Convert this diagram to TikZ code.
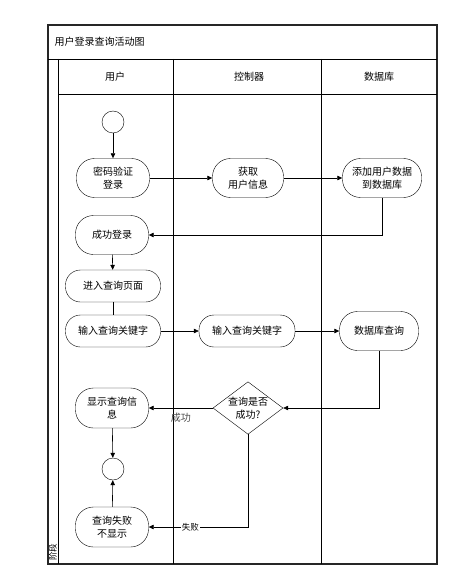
\documentclass[tikz,border=0pt]{standalone}
\usepackage{fontspec}
\setmainfont{Noto Sans CJK SC}
\usetikzlibrary{arrows.meta,positioning,shapes.geometric}

\begin{document}
\begin{tikzpicture}[x=1pt,y=-1pt,
          font=\fontsize{10}{12.5}\selectfont,
          act/.style={draw,rounded corners=18pt,align=center,
                      minimum width=73pt,minimum height=39pt,inner sep=1pt},
          flat/.style={act,minimum width=95pt,minimum height=32pt,rounded corners=15pt},
          dot/.style={draw,circle,minimum size=22pt,inner sep=0pt},
          ask/.style={draw,diamond,aspect=1.3,inner sep=0pt,align=center,
                      minimum width=70pt},
          ar/.style={-{Triangle[length=5pt,width=4.5pt]},line width=0.6pt},
          lbl/.style={font=\fontsize{10}{11}\selectfont,text=black!70},
          tag/.style={font=\fontsize{8.5}{9}\selectfont,fill=white,inner sep=1pt}
        ]
          \useasboundingbox (0,0) rectangle (466,572);

          % frame and lanes
          \draw[line width=1.1pt,black!85] (48,25) rectangle (437,564);
          \draw[line width=0.8pt] (48,59) -- (437,59);
          \draw[line width=0.8pt] (58,59) -- (58,564);
          \draw[line width=0.8pt] (58,94) -- (437,94);
          \draw[line width=0.8pt] (173,59) -- (173,564);
          \draw[line width=0.8pt] (321,59) -- (321,564);

          \node(title)[anchor=west] at (51,42) {用户登录查询活动图};
          \node(hUser) at (115,77) {用户};
          \node(hCtrl) at (249,77) {控制器};
          \node(hDb) at (379,77) {数据库};
          \node(phase)[rotate=90,font=\fontsize{8.5}{9}\selectfont,inner sep=0pt] at (53,552) {阶段};

          % user lane
          \node(start)[dot] at (113,122) {};
          \node(login)[act] at (113,178) {密码验证\\登录};
          \node(ok)[act] at (112,235) {成功登录};
          \node(page)[flat] at (113,286) {进入查询页面};
          \node(key1)[flat] at (113,331) {输入查询关键字};
          \node(show)[act,minimum height=40pt] at (112,408) {显示查询信\\息};
          \node(stop)[dot] at (113,469) {};
          \node(fail)[act,minimum height=40pt] at (112,527) {查询失败\\不显示};

          % controller lane
          \node(fetch)[act,minimum width=71pt] at (248,178) {获取\\用户信息};
          \node(key2)[flat,minimum width=96pt] at (247,331) {输入查询关键字};
          \node(check)[ask] at (248,408) {查询是否\\成功?};

          % database lane
          \node(add)[act,minimum width=79pt] at (382,178) {添加用户数据\\到数据库};
          \node(query)[act,minimum width=79pt] at (379,331) {数据库查询};

          \draw[ar] (start) -- (login);
          \draw[ar] (login) -- (fetch);
          \draw[ar] (fetch) -- (add);
          \draw[ar] (add.south) |- (ok.east);
          \draw[ar] (ok) -- (page);
          \draw[line width=0.6pt] (page) -- (key1);
          \draw[ar] (key1) -- (key2);
          \draw[ar] (key2) -- (query);
          \draw[ar] (query.south) |- (check.east);
          \draw[ar] (check.west) -- node[lbl,pos=0.5,below=1pt]{成功} (show.east);
          \draw[ar] (check.south) |- node[tag,pos=0.79]{失败} (fail.east);
          \draw[ar] (show) -- (stop);
          \draw[ar] (fail) -- (stop);
        \end{tikzpicture}
\end{document}
